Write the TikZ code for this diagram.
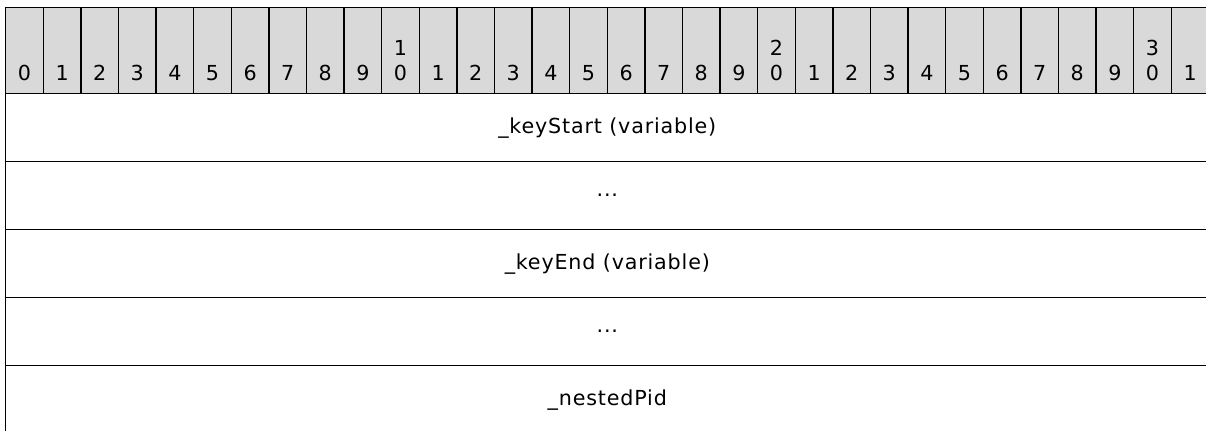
\documentclass[tikz,border=0pt]{standalone}
\usepackage{fontspec}
\setmainfont{DejaVu Sans}[LetterSpace=4]
\tikzset{
  hdrcell/.style={draw=black, fill=gray!30, line width=1.1pt},
  rowcell/.style={draw=black, line width=1.1pt},
  bitlbl/.style={anchor=base, inner sep=0pt, font=\fontsize{15.5}{18}\selectfont},
  fieldlbl/.style={inner sep=0pt, font=\fontsize{15.5}{18}\selectfont}
}
\begin{document}
\begin{tikzpicture}[x=0.75pt, y=-0.75pt]
  \useasboundingbox (0,0) rectangle (1206,430);
  % header with bit numbers
  \foreach \i in {0,...,31}{
    \pgfmathtruncatemacro{\u}{mod(\i,10)}
    \pgfmathtruncatemacro{\t}{div(\i,10)}
    \draw[hdrcell] ({5.7+37.6*\i},7.7) rectangle ++(37.6,86);
    \node[bitlbl] (u\i) at ({24.5+37.6*\i},80) {\u};
    \ifnum\u=0 \ifnum\i>0
      \node[bitlbl] (t\i) at ({24.5+37.6*\i},55) {\t};
    \fi\fi
  }
  % fields
  \draw[rowcell] (5.7,93.7) rectangle (1208.9,161.7);
  \draw[rowcell] (5.7,161.7) rectangle (1208.9,229.7);
  \draw[rowcell] (5.7,229.7) rectangle (1208.9,297.7);
  \draw[rowcell] (5.7,297.7) rectangle (1208.9,365.7);
  \draw[rowcell] (5.7,365.7) rectangle (1208.9,433.7);
  \node[fieldlbl] (keystart) at (607.3,127.7) {\_keyStart (variable)};
  \node[fieldlbl] (gap1) at (607.3,195.7) {...};
  \node[fieldlbl] (keyend) at (607.3,263.7) {\_keyEnd (variable)};
  \node[fieldlbl] (gap2) at (607.3,331.7) {...};
  \node[fieldlbl] (nestedpid) at (607.3,399.7) {\_nestedPid};
\end{tikzpicture}
\end{document}
